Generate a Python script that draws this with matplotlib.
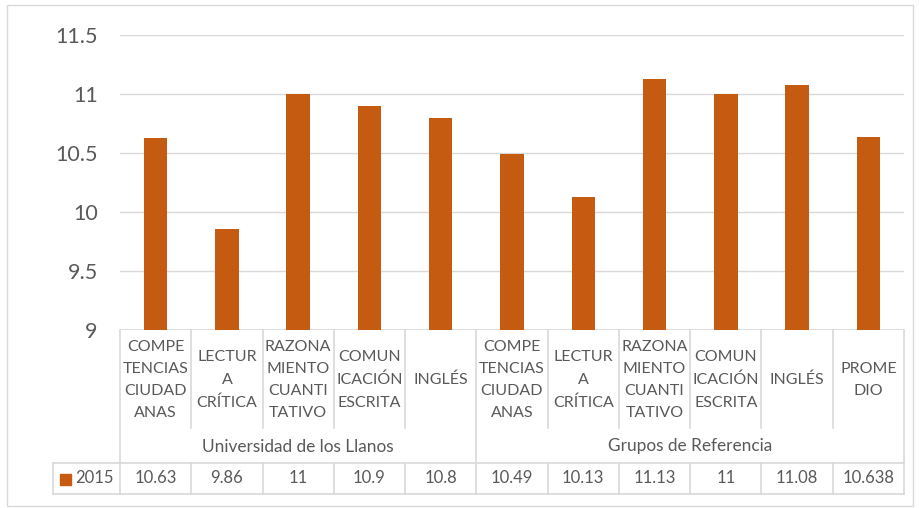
import matplotlib.pyplot as plt
import matplotlib.transforms as mtransforms
from matplotlib.patches import Rectangle

# === Data ===
categories = ["COMPE\nTENCIAS\nCIUDAD\nANAS", "LECTUR\nA\nCRÍTICA", "RAZONA\nMIENTO\nCUANTI\nTATIVO",
              "COMUN\nICACIÓN\nESCRITA", "INGLÉS",
              "COMPE\nTENCIAS\nCIUDAD\nANAS", "LECTUR\nA\nCRÍTICA", "RAZONA\nMIENTO\nCUANTI\nTATIVO",
              "COMUN\nICACIÓN\nESCRITA", "INGLÉS", "PROME\nDIO"]
values_2015 = [10.63, 9.86, 11, 10.9, 10.8, 10.49, 10.13, 11.13, 11, 11.08, 10.638]
value_labels = ["10.63", "9.86", "11", "10.9", "10.8", "10.49", "10.13", "11.13", "11", "11.08", "10.638"]
groups = ["Universidad de los Llanos", "Grupos de Referencia"]
group_sizes = [5, 6]
series_name = "2015"

bar_color = "#C55A11"
text_color = "#595959"
line_color = "#D9D9D9"

plt.rcParams['font.family'] = ['Lato', 'DejaVu Sans']

W, H = 920, 508
fig = plt.figure(figsize=(W / 100, H / 100), dpi=100)

# plot area in pixels
left, right, top, bottom = 120, 904, 35, 330
ax = fig.add_axes([left / W, 1 - bottom / H, (right - left) / W, (bottom - top) / H])

x = list(range(len(values_2015)))
ax.bar(x, values_2015, width=0.33, color=bar_color, zorder=3)
ax.set_xlim(-0.5, len(x) - 0.5)
ax.set_ylim(9, 11.5)
ax.set_yticks([9, 9.5, 10, 10.5, 11, 11.5])
ax.set_yticklabels(["9", "9.5", "10", "10.5", "11", "11.5"])
ax.tick_params(axis='y', length=0, pad=16, labelsize=15.5, labelcolor=text_color)
ax.set_xticks([])
ax.grid(axis='y', color=line_color, linewidth=1, zorder=0)
for s in ax.spines.values():
    s.set_visible(False)
ax.axhline(9, color=line_color, linewidth=1.2, zorder=2)

# helper: pixel -> axes fraction
def ya(py):
    return (bottom - py) / (bottom - top)

def xa(px):
    return (px - left) / (right - left)

trans = mtransforms.blended_transform_factory(ax.transData, ax.transAxes)
lkw = dict(color=line_color, linewidth=1.2, clip_on=False)

row1_bot, row2_bot, row3_bot = 430, 463, 494

# category labels and table values
for i, lab in enumerate(categories):
    ax.text(i, ya((bottom + row1_bot) / 2), lab, transform=trans, ha='center', va='center',
            fontsize=11.5, color=text_color, linespacing=1.75)
    ax.text(i, ya((row2_bot + row3_bot) / 2), value_labels[i], transform=trans, ha='center',
            va='center', fontsize=12, color=text_color)

# separators between categories
bounds = [-0.5]
for n in group_sizes:
    bounds.append(bounds[-1] + n)
for i in range(len(x) + 1):
    b = i - 0.5
    if b in bounds:
        ax.plot([b, b], [ya(bottom), ya(row3_bot)], transform=trans, **lkw)
    else:
        ax.plot([b, b], [ya(bottom), ya(row1_bot - 2)], transform=trans, **lkw)
        ax.plot([b, b], [ya(row2_bot), ya(row3_bot)], transform=trans, **lkw)

# group labels
for g, n, b in zip(groups, group_sizes, bounds):
    ax.text(b + n / 2, ya((row1_bot + row2_bot) / 2), g, transform=trans, ha='center',
            va='center', fontsize=12.4, color=text_color)

# data table row
legend_left = 53
ax.plot([xa(legend_left), 1], [ya(row2_bot)] * 2, transform=ax.transAxes, **lkw)
ax.plot([xa(legend_left), 1], [ya(row3_bot)] * 2, transform=ax.transAxes, **lkw)
ax.plot([xa(legend_left)] * 2, [ya(row2_bot), ya(row3_bot)], transform=ax.transAxes, **lkw)
ax.add_patch(Rectangle((xa(60), ya(485)), xa(71) - xa(60), ya(474) - ya(485), transform=ax.transAxes,
                       color=bar_color, clip_on=False))
ax.text(xa(75), ya((row2_bot + row3_bot) / 2), series_name, transform=ax.transAxes, ha='left',
        va='center', fontsize=12, color=text_color)

# chart border
fig.add_artist(Rectangle((7 / W, 1 - 506 / H), (913 - 7) / W, (506 - 5) / H, transform=fig.transFigure,
                         fill=False, edgecolor=line_color, linewidth=1))

fig.savefig("out.png", dpi=100, facecolor='white')
